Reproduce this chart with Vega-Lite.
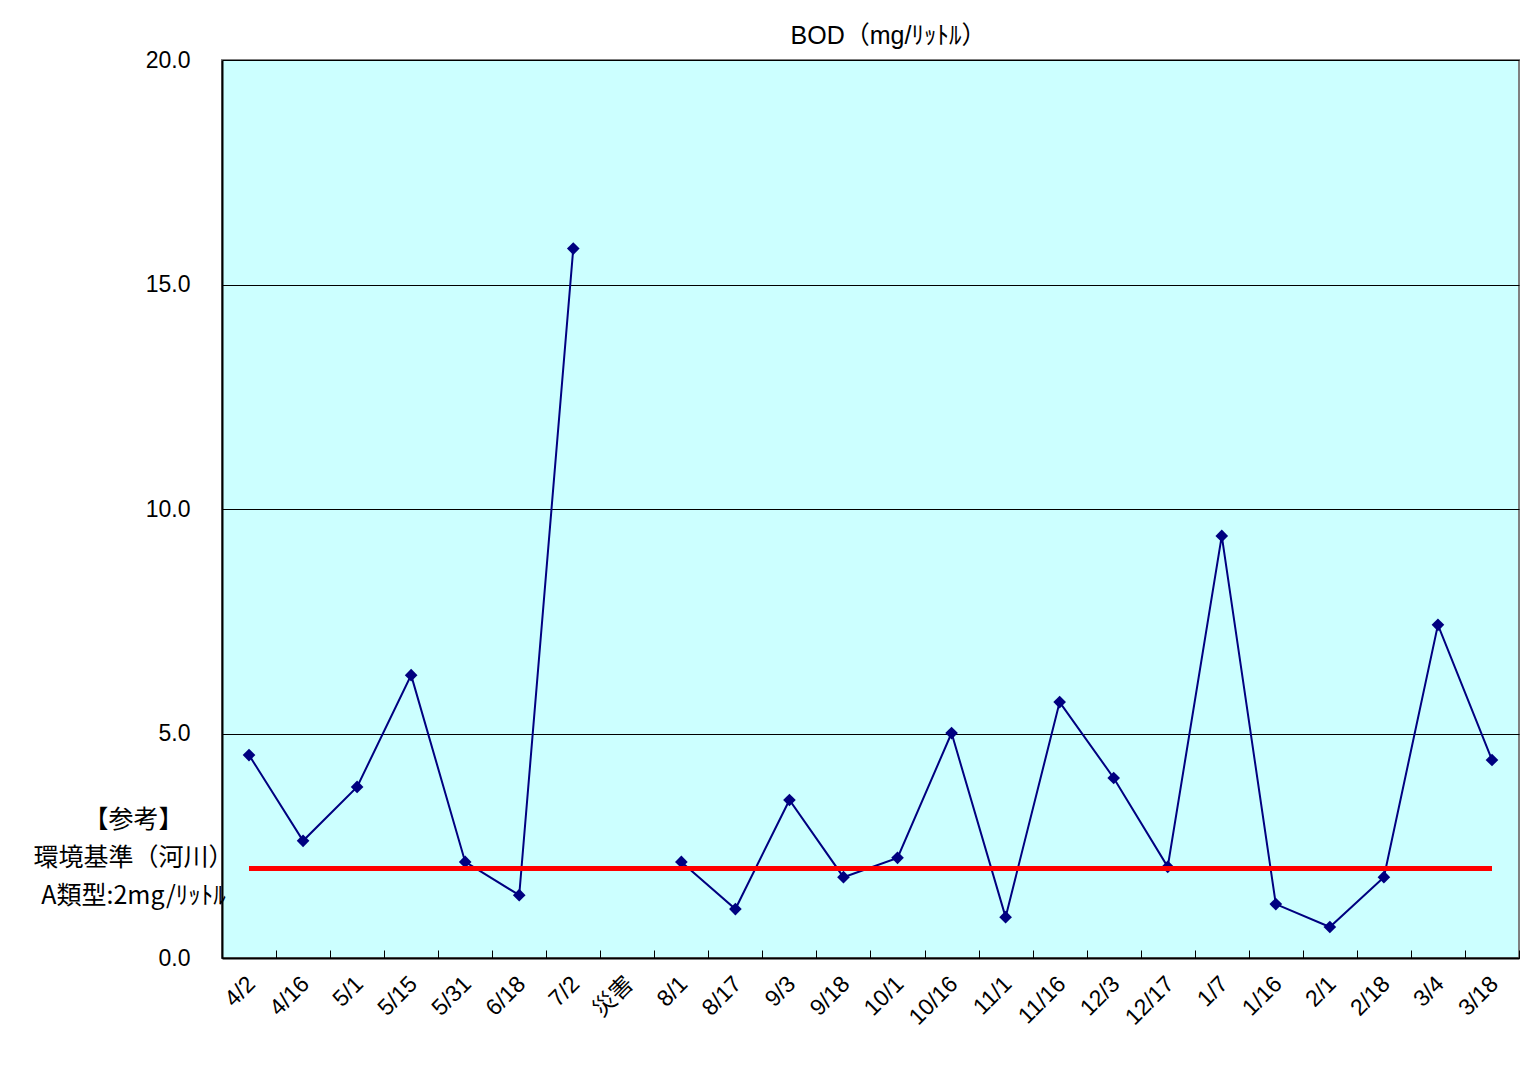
{
  "$schema": "https://vega.github.io/schema/vega-lite/v6.json",
  "autosize": "none",
  "width": 1297,
  "height": 898,
  "padding": {"left": 222, "top": 60, "right": 16, "bottom": 118},
  "background": "white",
  "config": {
    "view": {"fill": "#CCFFFF", "stroke": "#808080", "strokeWidth": 2},
    "font": "Liberation Sans"
  },
  "title": {
    "text": "BOD（mg/ﾘｯﾄﾙ）",
    "fontSize": 25,
    "font": "Liberation Sans, Noto Sans CJK JP",
    "fontWeight": "normal",
    "color": "black",
    "offset": 0,
    "dx": 18,
    "anchor": "middle"
  },
  "data": {
    "values": [
      {"date": "4/2", "bod": 4.52},
      {"date": "4/16", "bod": 2.61},
      {"date": "5/1", "bod": 3.81},
      {"date": "5/15", "bod": 6.3},
      {"date": "5/31", "bod": 2.14},
      {"date": "6/18", "bod": 1.4},
      {"date": "7/2", "bod": 15.8},
      {"date": "災害", "bod": null},
      {"date": "8/1", "bod": 2.14},
      {"date": "8/17", "bod": 1.09},
      {"date": "9/3", "bod": 3.52},
      {"date": "9/18", "bod": 1.8},
      {"date": "10/1", "bod": 2.23},
      {"date": "10/16", "bod": 5.01},
      {"date": "11/1", "bod": 0.91},
      {"date": "11/16", "bod": 5.7},
      {"date": "12/3", "bod": 4.01},
      {"date": "12/17", "bod": 2.03},
      {"date": "1/7", "bod": 9.4},
      {"date": "1/16", "bod": 1.2},
      {"date": "2/1", "bod": 0.69},
      {"date": "2/18", "bod": 1.8},
      {"date": "3/4", "bod": 7.42},
      {"date": "3/18", "bod": 4.41}
    ]
  },
  "encoding": {
    "x": {
      "field": "date",
      "type": "ordinal",
      "sort": null,
      "bandPosition": 0.5,
      "scale": {
        "type": "band",
        "domain": ["4/2","4/16","5/1","5/15","5/31","6/18","7/2","災害","8/1","8/17","9/3","9/18","10/1","10/16","11/1","11/16","12/3","12/17","1/7","1/16","2/1","2/18","3/4","3/18"],
        "paddingInner": 0,
        "paddingOuter": 0
      },
      "axis": {
        "title": null,
        "labelAngle": -45,
        "labelAlign": "right",
        "labelBaseline": "middle",
        "labelFontSize": 23,
        "labelFont": "Liberation Sans, Noto Sans CJK JP",
        "labelColor": "black",
        "labelPadding": 30,
        "labelOffset": 2,
        "tickBand": "extent",
        "tickSize": -8,
        "tickColor": "black",
        "domainColor": "black",
        "domainWidth": 2,
        "grid": false
      }
    },
    "y": {
      "field": "bod",
      "type": "quantitative",
      "scale": {"domain": [0, 20], "nice": false},
      "axis": {
        "values": [0, 5, 10, 15, 20],
        "format": ".1f",
        "labelFontSize": 23,
        "labelColor": "black",
        "labelPadding": 32,
        "ticks": false,
        "domainColor": "black",
        "domainWidth": 2,
        "grid": true,
        "gridColor": "black",
        "gridWidth": 1,
        "title": ["【参考】", "環境基準（河川）", "A類型:2mg/ﾘｯﾄﾙ"],
        "titleAngle": 0,
        "titleFont": "Noto Sans CJK JP",
        "titleFontSize": 25,
        "titleFontWeight": "normal",
        "titleColor": "black",
        "titleAlign": "center",
        "titleBaseline": "top",
        "titleLineHeight": 38,
        "titleX": -89,
        "titleY": 747
      }
    }
  },
  "layer": [
    {
      "mark": {"type": "line", "color": "#000080", "strokeWidth": 2, "invalid": "break-paths-show-domains"}
    },
    {
      "mark": {"type": "point", "shape": "diamond", "filled": true, "color": "#000080", "size": 160, "opacity": 1}
    },
    {
      "mark": {"type": "rule", "color": "#FF0000", "strokeWidth": 4},
      "encoding": {
        "x": {"datum": "4/2", "bandPosition": 0.5},
        "x2": {"datum": "3/18", "bandPosition": 0.5},
        "y": {"datum": 2}
      }
    }
  ]
}
